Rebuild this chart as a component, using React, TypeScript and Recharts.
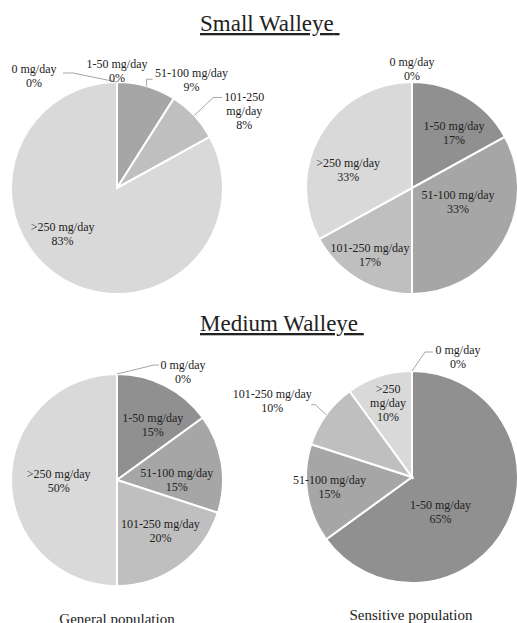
import {Cell, Pie, PieChart} from 'recharts'

// intake categories and the share of each population in them (%)
const categories = ['0 mg/day', '1-50 mg/day', '51-100 mg/day', '101-250 mg/day', '>250 mg/day']
const smallGeneral = [0, 0, 9, 8, 83]
const smallSensitive = [0, 17, 33, 17, 33]
const mediumGeneral = [0, 15, 15, 20, 50]
const mediumSensitive = [0, 65, 15, 10, 10]

const COLORS = ['#7f7f7f', '#909090', '#a6a6a6', '#bfbfbf', '#d9d9d9']
const FONT = '"Liberation Serif", "Times New Roman", serif'
const TEXT = '#222'
const RADIUS = 106

const toRows = (values: number[]) => categories.map((name, i) => ({name, value: values[i]}))

type Leader = { ax: number, ay: number, hx: number }
type Placement = { f: number, dx: number, dy: number, wrap?: boolean, leader?: Leader }

// where each data label sits: fraction of the radius along the slice's mid angle, then a nudge
const smallGeneralLabels: Placement[] = [
    {f: 1, dx: -83, dy: -6, leader: {ax: 29, ay: -3, hx: 10}},
    {f: 1, dx: 0, dy: -11},
    {f: 1, dx: 45, dy: -6, leader: {ax: -39, ay: -1, hx: -6}},
    {f: 1, dx: 50, dy: -4, wrap: true, leader: {ax: -22, ay: -14, hx: -9}},
    {f: 0.6, dx: -22, dy: -9},
]
const smallSensitiveLabels: Placement[] = [
    {f: 1, dx: 0, dy: -13},
    {f: 0.65, dx: 7, dy: 4},
    {f: 0.45, dx: 5, dy: -10},
    {f: 0.65, dx: -7, dy: 8},
    {f: 0.7, dx: 0, dy: 20},
]
const mediumGeneralLabels: Placement[] = [
    {f: 1, dx: 66, dy: -2, leader: {ax: -24, ay: -7, hx: -5}},
    {f: 0.6, dx: 7, dy: 2},
    {f: 0.6, dx: -3, dy: 10},
    {f: 0.6, dx: 6, dy: 0},
    {f: 0.55, dx: 0, dy: 1},
]
const mediumSensitiveLabels: Placement[] = [
    {f: 1, dx: 46, dy: -14, leader: {ax: -25, ay: -5, hx: -8}},
    {f: 0.45, dx: -14, dy: 13},
    {f: 0.75, dx: -4, dy: -2},
    {f: 1, dx: -54, dy: -14, leader: {ax: 39, ay: 4, hx: 4}},
    {f: 0.7, dx: -1, dy: -3, wrap: true},
]

const RAD = Math.PI / 180

const makeLabel = (spec: Placement[]) => (props: any) => {
    const {cx, cy, midAngle, outerRadius, index, name, value} = props
    const p = spec[index]
    if (!p) return null
    const cos = Math.cos(-midAngle * RAD)
    const sin = Math.sin(-midAngle * RAD)
    const lx = cx + outerRadius * p.f * cos + p.dx
    const ly = cy + outerRadius * p.f * sin + p.dy
    const lines = p.wrap ? [...String(name).split(' '), `${value}%`] : [String(name), `${value}%`]
    const lh = 14
    const top = ly - (lines.length - 1) * lh / 2
    let leader = null
    if (p.leader) {
        const ex = cx + outerRadius * cos
        const ey = cy + outerRadius * sin
        const tx = lx + p.leader.ax
        const ty = ly + p.leader.ay
        leader = (
            <polyline
                points={`${ex},${ey} ${tx + p.leader.hx},${ty} ${tx},${ty}`}
                fill="none"
                stroke="#a6a6a6"
                strokeWidth={1}
            />
        )
    }
    return (
        <g key={`label-${index}`}>
            {leader}
            <text textAnchor="middle" fontFamily={FONT} fontSize={12} fill={TEXT}>
                {lines.map((line, i) => (
                    <tspan key={i} x={lx} y={top + i * lh} dominantBaseline="central">{line}</tspan>
                ))}
            </text>
        </g>
    )
}

const pies = [
    {id: 'small-general', values: smallGeneral, labels: smallGeneralLabels, cx: 117, cy: 188},
    {id: 'small-sensitive', values: smallSensitive, labels: smallSensitiveLabels, cx: 412, cy: 188},
    {id: 'medium-general', values: mediumGeneral, labels: mediumGeneralLabels, cx: 117, cy: 480},
    {id: 'medium-sensitive', values: mediumSensitive, labels: mediumSensitiveLabels, cx: 412, cy: 477},
]

export default function App() {
    return (
        <div style={{position: 'absolute', left: 0, top: 0, width: 517, height: 623, background: '#fff', overflow: 'hidden'}}>
            <PieChart width={517} height={623} margin={{top: 0, right: 0, bottom: 0, left: 0}}>
                {pies.map(p => (
                    <Pie
                        key={p.id}
                        data={toRows(p.values)}
                        dataKey="value"
                        nameKey="name"
                        cx={p.cx}
                        cy={p.cy}
                        outerRadius={RADIUS}
                        startAngle={90}
                        endAngle={-270}
                        stroke="#fff"
                        strokeWidth={2}
                        label={makeLabel(p.labels)}
                        labelLine={false}
                        isAnimationActive={false}
                    >
                        {p.values.map((_, i) => (
                            <Cell key={`cell-${i}`} fill={COLORS[i]}/>
                        ))}
                    </Pie>
                ))}
            </PieChart>
            <svg width={517} height={623} style={{position: 'absolute', left: 0, top: 0, pointerEvents: 'none'}}>
                <g fontFamily={FONT} fill={TEXT}>
                    <text x={200} y={31} fontSize={23} textDecoration="underline">Small Walleye{'\u00a0'}</text>
                    <text x={200} y={331} fontSize={23} textDecoration="underline">Medium Walleye{'\u00a0'}</text>
                    <text x={117} y={624} fontSize={15} textAnchor="middle">General population</text>
                    <text x={411} y={620} fontSize={15} textAnchor="middle">Sensitive population</text>
                </g>
            </svg>
        </div>
    )
}
